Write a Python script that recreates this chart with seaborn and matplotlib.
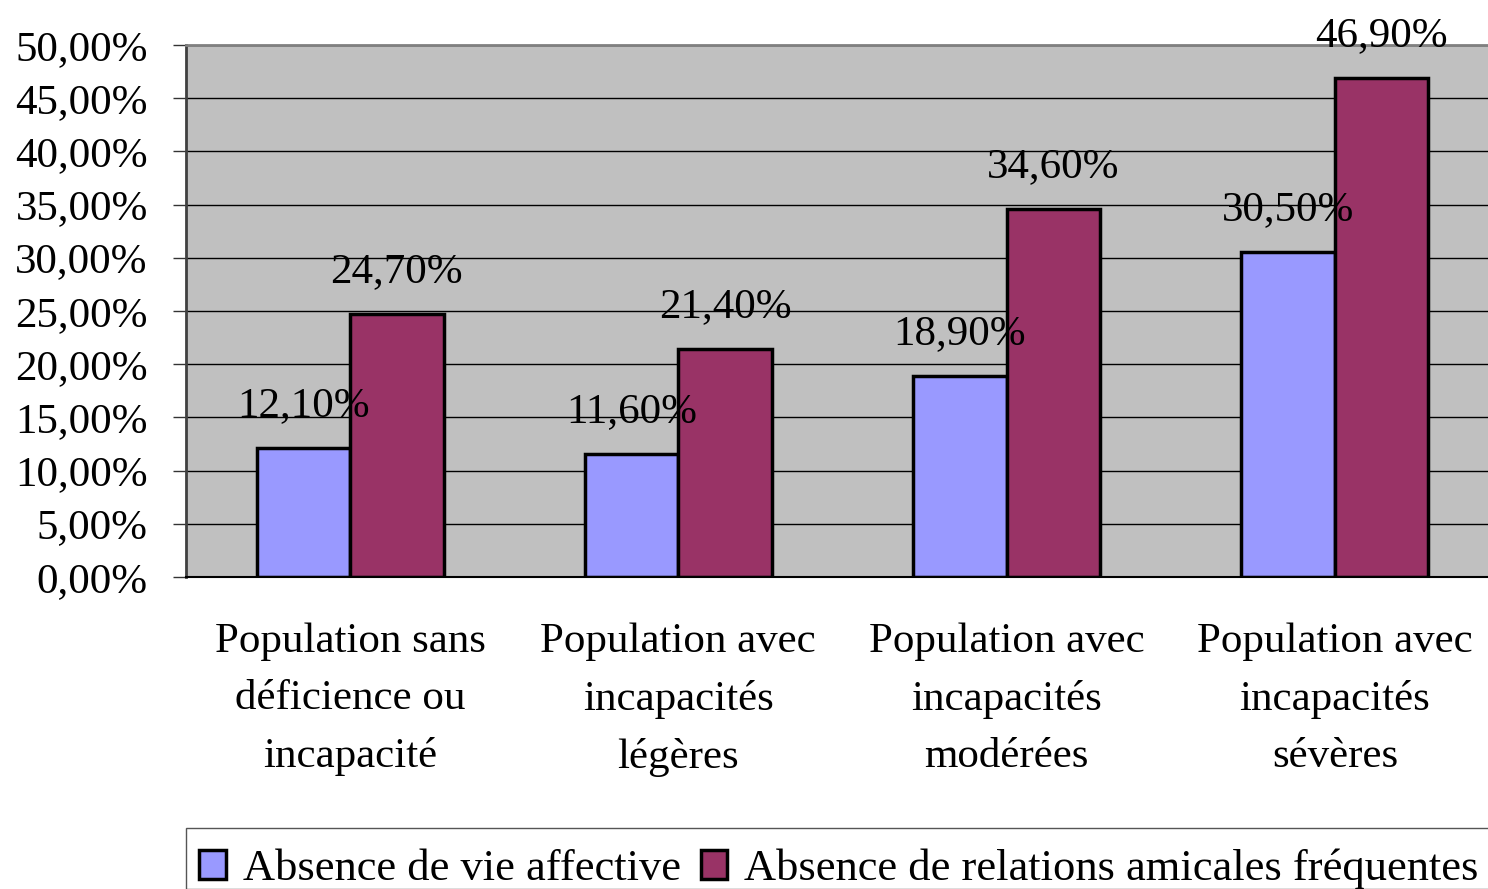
import matplotlib
matplotlib.use("Agg")
import matplotlib.pyplot as plt
import matplotlib.ticker as mticker
from matplotlib.patches import Patch, Rectangle
import seaborn as sns
import pandas as pd

categories = [
    "Population sans\ndéficience ou\nincapacité",
    "Population avec\nincapacités\nlégères",
    "Population avec\nincapacités\nmodérées",
    "Population avec\nincapacités\nsévères",
]
series_names = ["Absence de vie affective", "Absence de relations amicales fréquentes"]
vie_affective = [12.1, 11.6, 18.9, 30.5]
relations_amicales = [24.7, 21.4, 34.6, 46.9]
colors = ["#9999FF", "#993366"]

rows = []
for c, v in zip(categories, vie_affective):
    rows.append({"cat": c, "val": v, "serie": series_names[0]})
for c, v in zip(categories, relations_amicales):
    rows.append({"cat": c, "val": v, "serie": series_names[1]})
df = pd.DataFrame(rows)

sns.set_style("white")
plt.rcParams["font.family"] = ["Liberation Serif", "DejaVu Serif"]
plt.rcParams["text.color"] = "black"
plt.rcParams["xtick.color"] = "black"
plt.rcParams["ytick.color"] = "black"
plt.rcParams["axes.labelcolor"] = "black"
FS = 31

fig = plt.figure(figsize=(14.88, 8.89), dpi=100)
ax = fig.add_axes([186 / 1488, 312 / 889, 1313 / 1488, 532 / 889])
ax.set_facecolor("#C0C0C0")

sns.barplot(data=df, x="cat", y="val", hue="serie", palette=colors, width=0.57,
            edgecolor="black", linewidth=2.5, saturation=1, ax=ax, legend=False,
            errorbar=None)

ax.set_xlim(-0.5, 3.5)
ax.set_ylim(0, 50)
ax.set_axisbelow(True)
ax.yaxis.set_major_locator(mticker.MultipleLocator(5))
ax.yaxis.set_major_formatter(mticker.FuncFormatter(lambda v, p: f"{v:.2f}".replace(".", ",") + "%"))
ax.grid(axis="y", color="black", linewidth=1)
ax.grid(axis="x", visible=False)

ax.set_xlabel("")
ax.set_ylabel("")
ax.set_xticks(range(len(categories)))
ax.set_xticklabels(categories, fontsize=FS, linespacing=1.63, color="black")
ax.set_xticks([-0.5, 0.5, 1.5, 2.5, 3.5], minor=True)
ax.tick_params(axis="x", which="major", length=0, pad=33)
ax.tick_params(axis="x", which="minor", length=9, width=1, color="#333333", direction="out")
ax.tick_params(axis="y", which="major", length=9.5, width=1, color="#333333",
               direction="out", pad=18, labelsize=FS, left=True, labelcolor="black")

for s in ["top", "right"]:
    ax.spines[s].set_color("#808080")
    ax.spines[s].set_linewidth(2)
ax.spines["left"].set_color("#404040")
ax.spines["left"].set_linewidth(2)
ax.spines["bottom"].set_color("black")
ax.spines["bottom"].set_linewidth(1.5)

for container in ax.containers:
    labels = [f"{b.get_height():.2f}".replace(".", ",") + "%" for b in container]
    ax.bar_label(container, labels=labels, fontsize=FS, padding=16.5, clip_on=False,
                 color="black")

# legend box (frame drawn separately so it can run off the figure edge like the reference)
fig.patches.append(Rectangle((186 / 1488, 0), 1.0, 1 - 828 / 889, transform=fig.transFigure,
                             facecolor="white", edgecolor="#555555", linewidth=1, zorder=0))

handles = [Patch(facecolor=colors[i], edgecolor="black", linewidth=2.5, label=series_names[i])
           for i in range(2)]
leg = fig.legend(handles=handles, loc="center left", bbox_to_anchor=(199 / 1488, 1 - 869 / 889),
                 ncol=2, prop={"size": 32}, frameon=False,
                 handlelength=0.6, handleheight=0.6, handletextpad=0.38, columnspacing=0.45,
                 borderpad=0, borderaxespad=0)
for t in leg.get_texts():
    t.set_color("black")

fig.savefig("out.png", dpi=100, facecolor="white")
